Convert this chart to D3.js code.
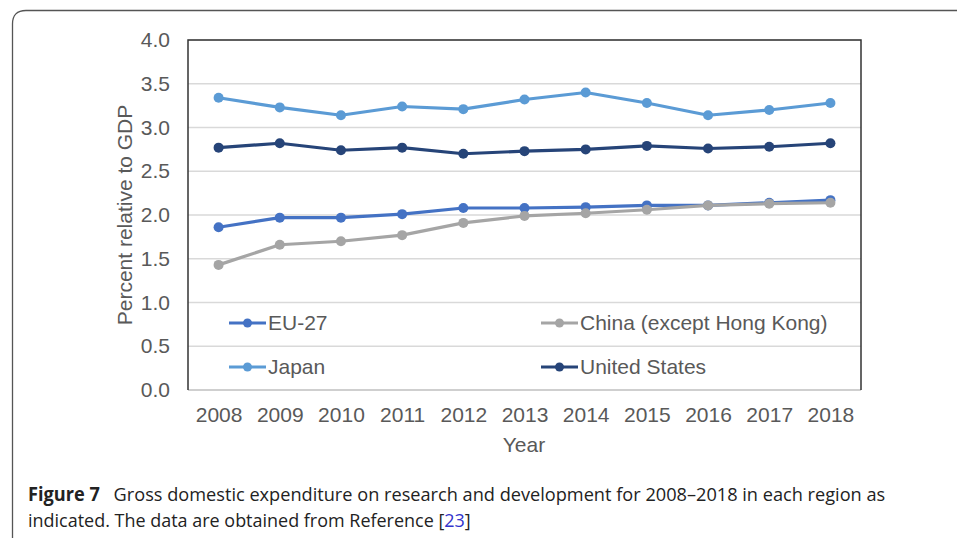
<!DOCTYPE html>
<html>
<head>
<meta charset="utf-8">
<script src="https://cdn.jsdelivr.net/npm/d3@7"></script>
<style>
  body { margin: 0; background: #fff; }
  svg { display: block; }
</style>
</head>
<body>
<svg id="chart" width="957" height="538"></svg>
<script>
/* DATA */
const years = ['2008','2009','2010','2011','2012','2013','2014','2015','2016','2017','2018'];
const eu27 = [1.86, 1.97, 1.97, 2.01, 2.08, 2.08, 2.09, 2.11, 2.11, 2.14, 2.17];
const china = [1.43, 1.66, 1.70, 1.77, 1.91, 1.99, 2.02, 2.06, 2.11, 2.13, 2.14];
const japan = [3.34, 3.23, 3.14, 3.24, 3.21, 3.32, 3.40, 3.28, 3.14, 3.20, 3.28];
const usa = [2.77, 2.82, 2.74, 2.77, 2.70, 2.73, 2.75, 2.79, 2.76, 2.78, 2.82];
const seriesNames = ['EU-27', 'China (except Hong Kong)', 'Japan', 'United States'];
const yTicks = [0, 0.5, 1, 1.5, 2, 2.5, 3, 3.5, 4];

const series = [
  {name: seriesNames[0], values: eu27, color: '#4472c4'},
  {name: seriesNames[1], values: china, color: '#a5a5a5'},
  {name: seriesNames[2], values: japan, color: '#5b9bd5'},
  {name: seriesNames[3], values: usa, color: '#264478'}
];

const svg = d3.select('#chart');
const font = '"Liberation Sans", Arial, sans-serif';
const fontSize = 21;
const plotL = 188, plotR = 861, plotT = 40, plotB = 390;

/* outer frame with rounded corner */
svg.append('path')
  .attr('d', 'M12.5,560 L12.5,24 Q12.5,10.5 26,10.5 L980,10.5')
  .attr('fill', 'none')
  .attr('stroke', '#555')
  .attr('stroke-width', 1.3);

const x = d3.scalePoint().domain(years).range([plotL, plotR]).padding(0.5);
const y = d3.scaleLinear().domain([0, 4]).range([plotB, plotT]);

/* gridlines */
svg.append('g').selectAll('line')
  .data(yTicks)
  .join('line')
  .attr('x1', plotL).attr('x2', plotR)
  .attr('y1', d => y(d)).attr('y2', d => y(d))
  .attr('stroke', d => d == 0 ? '#bfbfbf' : '#d9d9d9')
  .attr('stroke-width', 1.5);

/* plot frame: top, left, right */
svg.append('path')
  .attr('d', `M${plotL},${plotB} L${plotL},${plotT} L${plotR},${plotT} L${plotR},${plotB}`)
  .attr('fill', 'none')
  .attr('stroke', '#333')
  .attr('stroke-width', 1.5);

/* axes */
const yAxis = svg.append('g')
  .attr('transform', `translate(${plotL},0)`)
  .call(d3.axisLeft(y).tickValues(yTicks).tickFormat(d3.format('.1f')).tickSize(0).tickPadding(18));
const xAxis = svg.append('g')
  .attr('transform', `translate(0,${plotB})`)
  .call(d3.axisBottom(x).tickSize(0).tickPadding(17));
[yAxis, xAxis].forEach(function(a){
  a.select('.domain').remove();
  a.selectAll('text')
    .attr('font-family', font)
    .attr('font-size', fontSize)
    .attr('fill', '#595959');
});

/* axis titles */
svg.append('text')
  .attr('transform', 'translate(132,215) rotate(-90)')
  .attr('text-anchor', 'middle')
  .attr('font-family', font)
  .attr('font-size', fontSize)
  .attr('fill', '#595959')
  .text('Percent relative to GDP');
svg.append('text')
  .attr('x', 524).attr('y', 452)
  .attr('text-anchor', 'middle')
  .attr('font-family', font)
  .attr('font-size', fontSize)
  .attr('fill', '#595959')
  .text('Year');

/* lines and markers */
const line = d3.line()
  .x((d, i) => x(years[i]))
  .y(d => y(d));

series.forEach(function(s){
  svg.append('path')
    .datum(s.values)
    .attr('d', line)
    .attr('fill', 'none')
    .attr('stroke', s.color)
    .attr('stroke-width', 3.2)
    .attr('stroke-linejoin', 'round');
  svg.append('g').selectAll('circle')
    .data(s.values)
    .join('circle')
    .attr('cx', (d, i) => x(years[i]))
    .attr('cy', d => y(d))
    .attr('r', 5)
    .attr('fill', s.color);
});

/* legend */
const legendPos = [[229, 323], [541, 323], [229, 367], [541, 367]];
series.forEach(function(s, i){
  const g = svg.append('g').attr('transform', `translate(${legendPos[i][0]},${legendPos[i][1]})`);
  g.append('line')
    .attr('x1', 0).attr('x2', 37)
    .attr('y1', 0).attr('y2', 0)
    .attr('stroke', s.color)
    .attr('stroke-width', 3.2);
  g.append('circle')
    .attr('cx', 18.5).attr('cy', 0).attr('r', 4.5)
    .attr('fill', s.color);
  g.append('text')
    .attr('x', 39).attr('y', 0).attr('dy', '0.35em')
    .attr('font-family', font)
    .attr('font-size', fontSize)
    .attr('fill', '#595959')
    .text(s.name);
});

/* CAPTION - squeezed horizontally to look like the condensed journal font */
const capFont = '"Open Sans", "Noto Sans", sans-serif';
function captionLine(yPos, width, parts){
  const t = svg.append('text')
    .attr('x', 0).attr('y', 0)
    .attr('font-family', capFont)
    .attr('font-size', 19)
    .attr('fill', '#222');
  parts.forEach(function(p){
    const ts = t.append('tspan').text(p.text);
    if (p.bold) ts.attr('font-weight', 'bold');
    if (p.color) ts.attr('fill', p.color);
  });
  const w = t.node().getComputedTextLength();
  t.attr('transform', `translate(28,${yPos}) scale(${width / w},1)`);
}
captionLine(501, 858, [
  {text: 'Figure 7', bold: true},
  {text: '\u2002 Gross domestic expenditure on research and development for 2008\u20132018 in each region as'}
]);
captionLine(527, 443, [
  {text: 'indicated. The data are obtained from Reference ['},
  {text: '23', color: '#3333cc'},
  {text: ']'}
]);
</script>
</body>
</html>
